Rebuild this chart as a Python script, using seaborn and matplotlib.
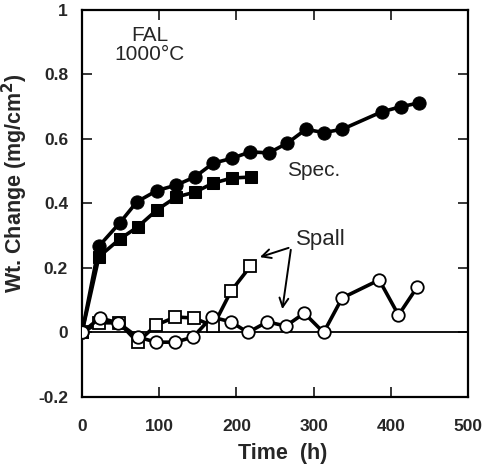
import matplotlib
matplotlib.use("Agg")
import matplotlib.pyplot as plt
import seaborn as sns
import pandas as pd

# Data
spec_circ_t = [0, 22, 49, 71, 97, 122, 146, 170, 194, 218, 242, 266, 290, 313, 337, 388, 413, 437]
spec_circ_w = [0, 0.268, 0.34, 0.405, 0.44, 0.457, 0.482, 0.525, 0.54, 0.56, 0.557, 0.587, 0.63, 0.62, 0.63, 0.684, 0.70, 0.712]

spec_sq_t = [0, 22, 49, 72, 97, 122, 146, 170, 194, 219]
spec_sq_w = [0, 0.235, 0.29, 0.327, 0.38, 0.42, 0.435, 0.463, 0.479, 0.482]

spall_sq_t = [0, 22, 48, 72, 96, 121, 145, 170, 193, 218]
spall_sq_w = [0, 0.03, 0.03, -0.03, 0.023, 0.048, 0.045, 0.02, 0.128, 0.205]

spall_circ_t = [0, 23, 47, 72, 96, 121, 144, 168, 193, 215, 240, 264, 288, 313, 337, 385, 410, 434]
spall_circ_w = [0, 0.045, 0.03, -0.014, -0.03, -0.03, -0.014, 0.048, 0.033, 0.0, 0.033, 0.02, 0.06, 0.0, 0.107, 0.163, 0.054, 0.14]

x_ticks = [0, 100, 200, 300, 400, 500]
y_ticks = [-0.2, 0, 0.2, 0.4, 0.6, 0.8, 1]
y_tick_labels = ["-0.2", "0", "0.2", "0.4", "0.6", "0.8", "1"]

sns.set_style("ticks")
plt.rcParams['font.family'] = ['Liberation Sans', 'DejaVu Sans']

fig = plt.figure(figsize=(4.89, 4.67), dpi=100)
ax = fig.add_axes([0.1677, 0.1499, 0.7893, 0.8287])

lw = 2.6
sns.lineplot(x=spec_circ_t, y=spec_circ_w, ax=ax, color="black", lw=lw, marker="o",
             markersize=9.5, markerfacecolor="black", markeredgecolor="black", sort=False, zorder=3)
sns.lineplot(x=spec_sq_t, y=spec_sq_w, ax=ax, color="black", lw=lw, marker="s",
             markersize=8, markerfacecolor="black", markeredgecolor="black", sort=False, zorder=3)
sns.lineplot(x=spall_sq_t, y=spall_sq_w, ax=ax, color="black", lw=lw, marker="s",
             markersize=8, markerfacecolor="white", markeredgecolor="black", markeredgewidth=1.3,
             sort=False, zorder=3)
sns.lineplot(x=spall_circ_t, y=spall_circ_w, ax=ax, color="black", lw=lw, marker="o",
             markersize=9, markerfacecolor="white", markeredgecolor="black", markeredgewidth=1.3,
             sort=False, zorder=3)

ax.axhline(0, color="black", lw=1.3, zorder=1)

ax.set_xlim(0, 500)
ax.set_ylim(-0.2, 1)
ax.set_xticks(x_ticks)
ax.set_xticklabels([str(v) for v in x_ticks], fontsize=12.5, fontweight="bold")
ax.set_yticks(y_ticks)
ax.set_yticklabels(y_tick_labels, fontsize=12.5, fontweight="bold")
ax.tick_params(direction="in", top=True, right=True, length=7, width=1.3)
ax.tick_params(axis="y", pad=10)
ax.tick_params(axis="x", pad=16)
for s in ax.spines.values():
    s.set_linewidth(1.6)
    s.set_color("black")

ax.set_xlabel("Time  (h)", fontsize=15.5, fontweight="bold")
ax.set_ylabel("Wt. Change (mg/cm$^\\mathbf{2}$)", fontsize=15.5, fontweight="bold")
ax.xaxis.set_label_coords(0.52, -0.119)
ax.yaxis.set_label_coords(-0.135, 0.553)

ax.text(88, 0.89, "FAL\n1000°C", ha="center", va="center", fontsize=15, linespacing=1.0)
ax.text(300, 0.503, "Spec.", ha="center", va="center", fontsize=15)
ax.text(310, 0.287, "Spall", ha="center", va="center", fontsize=16)
ax.annotate("", xy=(227, 0.231), xytext=(271, 0.265),
            arrowprops=dict(arrowstyle="->", color="black", lw=1.4, mutation_scale=16))
ax.annotate("", xy=(259, 0.064), xytext=(271, 0.265),
            arrowprops=dict(arrowstyle="->", color="black", lw=1.4, mutation_scale=16))

fig.savefig("out.png", dpi=100)
